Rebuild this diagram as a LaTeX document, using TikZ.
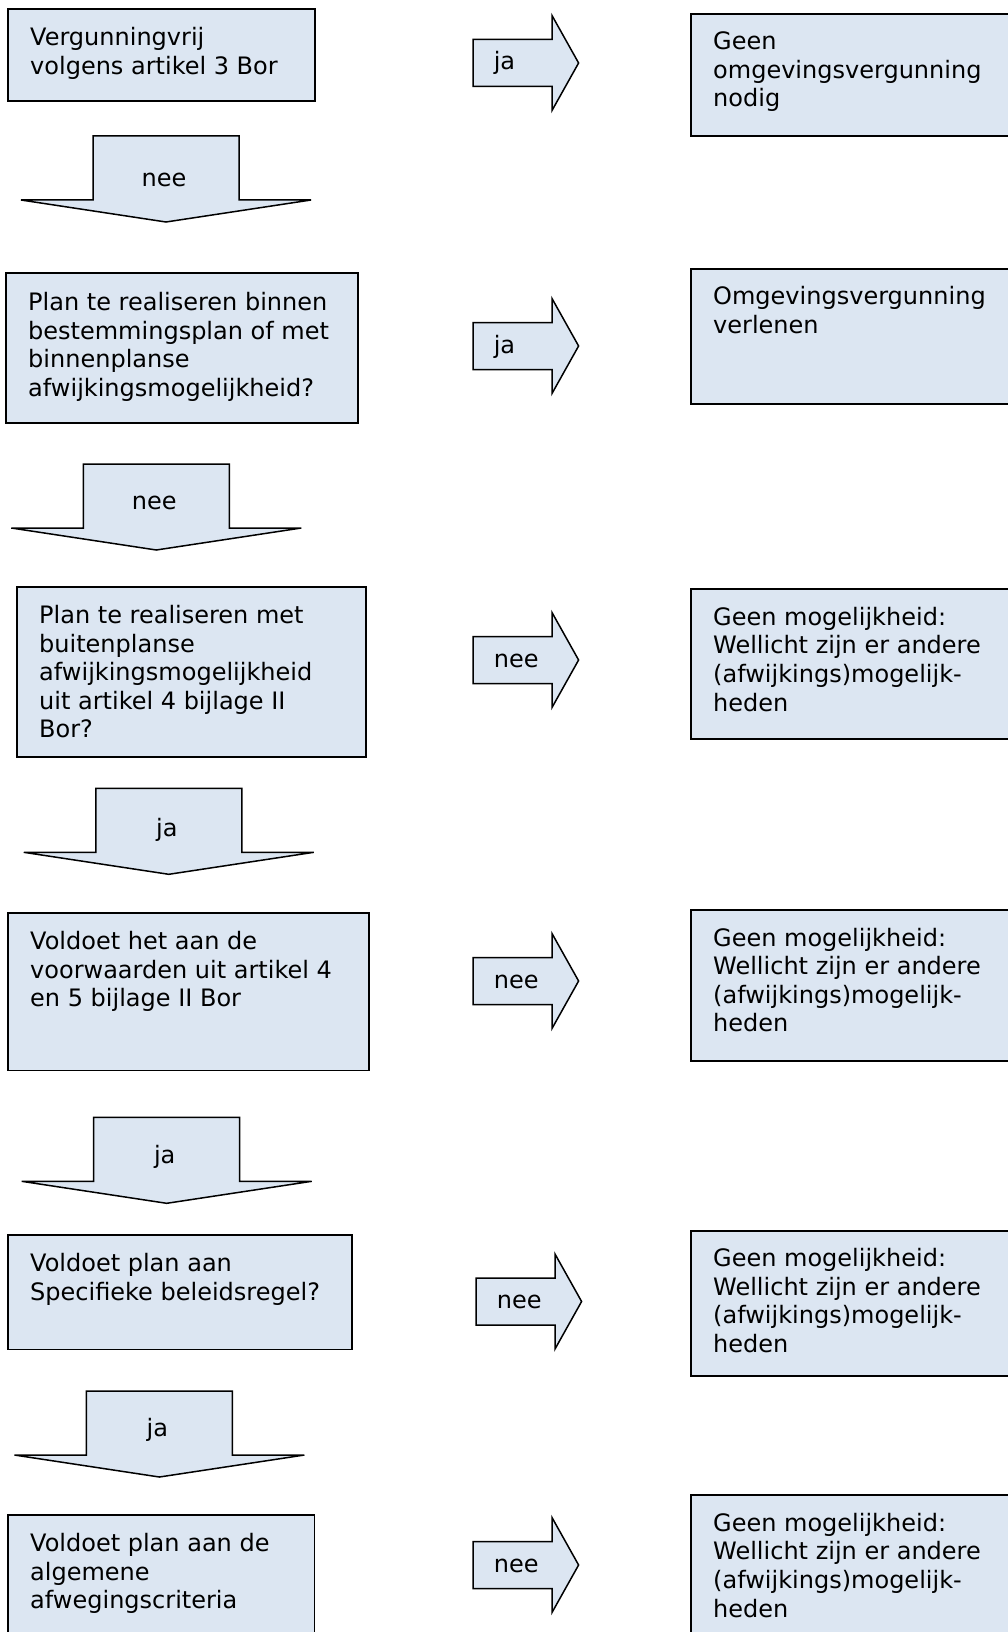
\documentclass[tikz,border=0pt]{standalone}
\usepackage{fontspec}
\setmainfont{DejaVu Sans}
\usepackage{xcolor}
\definecolor{boxfill}{RGB}{220, 230, 242}
\definecolor{boxline}{RGB}{0, 0, 0}
\usepackage{tikz}
\usetikzlibrary{positioning}

\begin{document}
\begin{tikzpicture}[x=1pt, y=-1pt,
    flowbox/.style={draw=boxline, fill=boxfill, line width=1.9pt},
    blockarrow/.style={draw=boxline, fill=boxfill, line width=1.5pt, line join=miter},
    boxtext/.style={anchor=north west, align=left, inner sep=0pt, font=\fontsize{24}{28.6}\selectfont},
    arrowtext/.style={inner sep=0pt, font=\fontsize{24}{28.6}\selectfont}]
    \useasboundingbox (0,0) rectangle (1008,1632);
    \clip (0,0) rectangle (1008,1632);

    % left column: questions
    \draw[flowbox] (8,9.3) rectangle (315,100.7);
    \node[boxtext] (vrij) at (30,27) {Vergunningvrij\\volgens artikel 3 Bor};
    \draw[flowbox] (6,273.3) rectangle (358,422.7);
    \node[boxtext] (binnen) at (28,292) {Plan te realiseren binnen\\bestemmingsplan of met\\binnenplanse\\afwijkingsmogelijkheid?};
    \draw[flowbox] (17,587) rectangle (366,757);
    \node[boxtext] (buiten) at (39,605) {Plan te realiseren met\\buitenplanse\\afwijkingsmogelijkheid\\uit artikel 4 bijlage II\\Bor?};
    \draw[flowbox] (8.3,913.2) rectangle (368.6,1070.5);
    \node[boxtext] (voorw) at (30,931) {Voldoet het aan de\\voorwaarden uit artikel 4\\en 5 bijlage II Bor};
    \draw[flowbox] (8.3,1235) rectangle (352,1349.5);
    \node[boxtext] (beleid) at (30,1253) {Voldoet plan aan\\Specifieke beleidsregel?};
    \draw[flowbox] (8.3,1515) rectangle (314.5,1645);
    \node[boxtext] (criteria) at (30,1533) {Voldoet plan aan de\\algemene\\afwegingscriteria};

    % right column: outcomes
    \draw[flowbox] (691,14) rectangle (1020,136);
    \node[boxtext] (geenvg) at (713,31.5) {Geen\\omgevingsvergunning\\nodig};
    \draw[flowbox] (691,268.7) rectangle (1020,404);
    \node[boxtext] (verlenen) at (713,286) {Omgevingsvergunning\\verlenen};
    \foreach \T/\B [count=\i] in {589.4/739.3, 910.1/1061.1, 1230.8/1375.6, 1495.3/1645} {
        \draw[flowbox] (691,\T) rectangle (1020,\B);
        \node[boxtext] (geenmog\i) at (713,\T+17.5) {Geen mogelijkheid:\\Wellicht zijn er andere\\(afwijkings)mogelijk-\\heden};
    }

    % downward block arrows
    \foreach \L/\T/\dy/\lab [count=\i] in {93/136/51/nee, 83.3/464/45/nee, 95.8/788.3/48/ja, 93.7/1117.3/46/ja, 86.4/1391/45/ja} {
        \draw[blockarrow, shift={(\L,\T)}] (0,0) -- (146,0) -- (146,64) -- (218,64)
            -- (73,86) -- (-72,64) -- (0,64) -- cycle;
        \node[arrowtext, anchor=base] (down\i) at (\L+71,\T+\dy) {\lab};
    }

    % rightward block arrows
    \foreach \X/\Y/\lab [count=\i] in {473/63/ja, 473/346/ja, 473/660/nee, 473/981/nee, 476/1301.5/nee, 473/1565/nee} {
        \draw[blockarrow, shift={(\X,\Y)}] (0,-23.5) -- (79,-23.5) -- (79,-47.5) -- (105.6,0)
            -- (79,47.5) -- (79,23.5) -- (0,23.5) -- cycle;
        \node[arrowtext, anchor=base west] (right\i) at (\X+20.6,\Y+7) {\lab};
    }
\end{tikzpicture}
\end{document}
